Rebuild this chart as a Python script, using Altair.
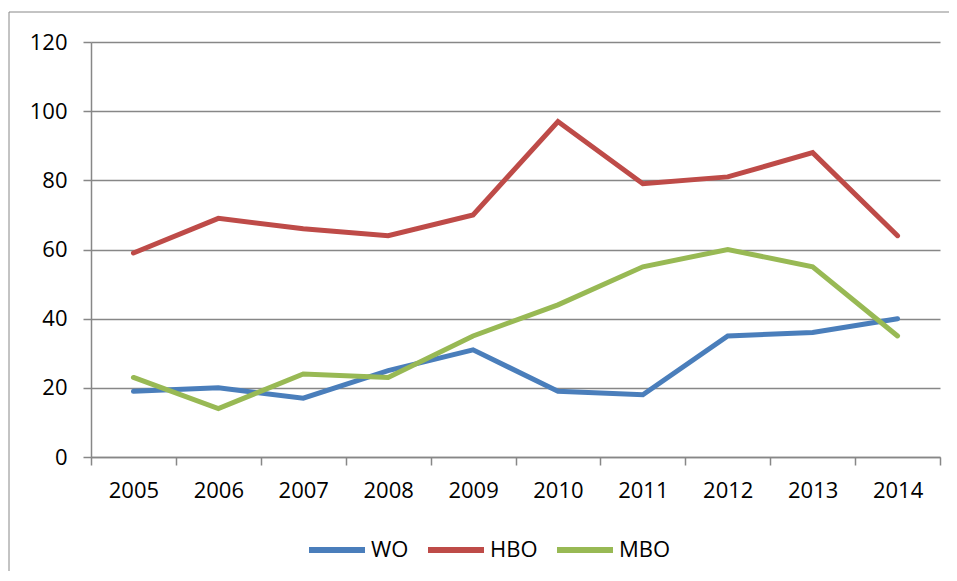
import altair as alt
import pandas as pd

years = ["2005", "2006", "2007", "2008", "2009", "2010", "2011", "2012", "2013", "2014"]
series = ["WO", "HBO", "MBO"]
wo = [19, 20, 17, 25, 31, 19, 18, 35, 36, 40]
hbo = [59, 69, 66, 64, 70, 97, 79, 81, 88, 64]
mbo = [23, 14, 24, 23, 35, 44, 55, 60, 55, 35]
colors = ["#4A7EBB", "#BE4B48", "#98B954"]
y_ticks = [0, 20, 40, 60, 80, 100, 120]

rows = []
for name, vals in zip(series, [wo, hbo, mbo]):
    for i, (yr, v) in enumerate(zip(years, vals)):
        rows.append({"year": yr, "series": name, "value": v, "order": series.index(name)})
df = pd.DataFrame(rows)

FONT = "Open Sans"
GRAY = "#878787"

lines = alt.Chart(df).mark_line(strokeWidth=5, strokeCap="round").encode(
    x=alt.X("year:N", sort=years, bandPosition=0.5,
            scale=alt.Scale(type="band", paddingInner=0, paddingOuter=0),
            axis=alt.Axis(title=None, labelAngle=0, tickBand="extent", tickSize=8,
                          labelPadding=15, labelFontSize=22, labelFont=FONT,
                          labelColor="#000000", domainColor=GRAY, tickColor=GRAY,
                          domainWidth=1.5, tickWidth=1.5, grid=False)),
    y=alt.Y("value:Q", scale=alt.Scale(domain=[0, 120], nice=False),
            axis=alt.Axis(title=None, values=y_ticks, tickSize=8, labelPadding=16,
                          labelFontSize=22, labelFont=FONT, labelColor="#000000",
                          domainColor=GRAY, tickColor=GRAY, gridColor=GRAY,
                          gridWidth=1.5, domainWidth=1.5, tickWidth=1.5, grid=True)),
    color=alt.Color("series:N", sort=series,
                    scale=alt.Scale(domain=series, range=colors),
                    legend=alt.Legend(title=None, orient="none", direction="horizontal",
                                      legendX=215, legendY=477,
                                      symbolType="stroke", symbolSize=3136,
                                      symbolStrokeWidth=6, labelFontSize=22,
                                      labelFont=FONT, labelColor="#000000",
                                      labelOffset=3, columnPadding=7)),
    order=alt.Order("order:Q"),
)

frame = alt.Chart(pd.DataFrame({"a": [0]})).mark_rect(
    filled=False, stroke="#888888", strokeWidth=1
).encode(
    x=alt.value(-82), x2=alt.value(900), y=alt.value(-30), y2=alt.value(600)
)

chart = alt.layer(frame, lines).properties(
    width=849, height=415,
    autosize=alt.AutoSizeParams(type="none"),
    padding={"left": 83, "top": 34, "right": 9, "bottom": 114},
).configure_view(stroke=None)

chart.save("out.html", embed_options={"renderer": "svg", "actions": False})
